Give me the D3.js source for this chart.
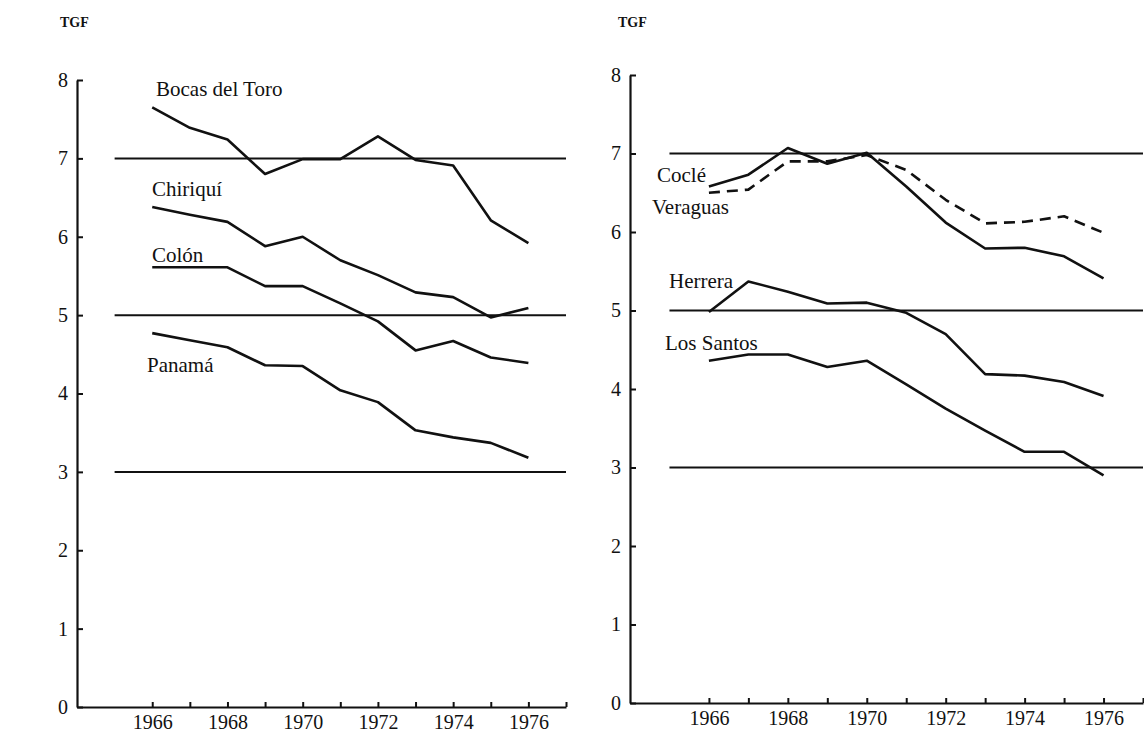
<!DOCTYPE html>
<html><head><meta charset="utf-8">
<script src="https://cdn.jsdelivr.net/npm/d3@7"></script>
<style>
body{margin:0;background:#fff}
svg{display:block}
text{font-family:"Liberation Serif","DejaVu Serif",serif;fill:#111}
</style>
</head><body>
<svg id="chart" width="1144" height="735"></svg>
<script>
// ---------- data ----------
const years = [1966, 1967, 1968, 1969, 1970, 1971, 1972, 1973, 1974, 1975, 1976];

const bocasDelToro = [7.65, 7.39, 7.24, 6.80, 6.99, 6.99, 7.28, 6.98, 6.91, 6.21, 5.92];
const chiriqui     = [6.38, 6.28, 6.19, 5.88, 6.00, 5.70, 5.51, 5.29, 5.23, 4.97, 5.09];
const colon        = [5.61, 5.61, 5.61, 5.37, 5.37, 5.15, 4.92, 4.55, 4.67, 4.46, 4.39];
const panama       = [4.77, 4.68, 4.59, 4.36, 4.35, 4.04, 3.89, 3.53, 3.44, 3.37, 3.18];

const cocle        = [6.58, 6.73, 7.07, 6.87, 7.01, 6.58, 6.12, 5.79, 5.80, 5.69, 5.41];
const veraguas     = [6.50, 6.54, 6.90, 6.90, 6.98, 6.79, 6.41, 6.11, 6.13, 6.20, 5.99];
const herrera      = [4.98, 5.37, 5.24, 5.09, 5.10, 4.97, 4.70, 4.19, 4.17, 4.09, 3.91];
const losSantos    = [4.36, 4.44, 4.44, 4.28, 4.36, 4.06, 3.75, 3.47, 3.20, 3.20, 2.90];

const leftNames  = ["Bocas del Toro", "Chiriquí", "Colón", "Panamá"];
const rightNames = ["Coclé", "Veraguas", "Herrera", "Los Santos"];

const referenceLevels = [7, 5, 3];
const refStartYear = 1965, refEndYear = 1977;
const yTickValues = [0, 1, 2, 3, 4, 5, 6, 7, 8];
const xTickMarks = [1966, 1967, 1968, 1969, 1970, 1971, 1972, 1973, 1974, 1975, 1976, 1977];
const xTickLabels = [1966, 1968, 1970, 1972, 1974, 1976];
const yAxisTitle = "TGF";

// ---------- layout ----------
const svg = d3.select("#chart");
const ink = "#111";

const panels = [
  { x0: 77, x1: 566, yTop: 80, yBottom: 707, titleX: 60,
    series: [bocasDelToro, chiriqui, colon, panama], names: leftNames,
    dashed: [false, false, false, false],
    labelPos: [[156, 96], [152, 196], [152, 262], [147, 372]] },
  { x0: 630, x1: 1143, yTop: 75, yBottom: 703, titleX: 618,
    series: [cocle, veraguas, herrera, losSantos], names: rightNames,
    dashed: [false, true, false, false],
    labelPos: [[657, 182], [652, 214], [669, 288], [665, 350]] }
];

panels.forEach(p => {
  const x = d3.scaleLinear().domain([1964, 1977]).range([p.x0, p.x1]);
  const y = d3.scaleLinear().domain([0, 8]).range([p.yBottom, p.yTop]);
  const g = svg.append("g");

  // reference lines
  g.selectAll("line.ref").data(referenceLevels).join("line")
    .attr("class", "ref")
    .attr("x1", x(refStartYear)).attr("x2", x(refEndYear))
    .attr("y1", d => y(d)).attr("y2", d => y(d))
    .attr("stroke", ink).attr("stroke-width", 2);

  // y axis
  const yAxis = d3.axisLeft(y).tickValues(yTickValues)
    .tickSizeInner(-6).tickSizeOuter(0).tickPadding(9)
    .tickFormat(d3.format("d"));
  const ya = g.append("g").attr("transform", `translate(${p.x0},0)`).call(yAxis);
  ya.select(".domain").attr("stroke", ink).attr("stroke-width", 2.2);
  ya.selectAll(".tick line").attr("stroke", ink).attr("stroke-width", 2);
  ya.selectAll(".tick text").attr("font-size", 20).attr("fill", ink)
    .style("font-family", '"Liberation Serif",serif');

  // x axis
  const xAxis = d3.axisBottom(x).tickValues(xTickMarks)
    .tickSizeInner(-5).tickSizeOuter(0).tickPadding(8)
    .tickFormat(d => xTickLabels.includes(d) ? String(d) : "");
  const xa = g.append("g").attr("transform", `translate(0,${p.yBottom})`).call(xAxis);
  xa.select(".domain").attr("stroke", ink).attr("stroke-width", 2.2);
  xa.selectAll(".tick line").attr("stroke", ink).attr("stroke-width", 2);
  xa.selectAll(".tick text").attr("font-size", 20).attr("fill", ink)
    .style("font-family", '"Liberation Serif",serif');

  // axis title
  g.append("text").attr("x", p.titleX).attr("y", 27)
    .attr("font-size", 14).attr("font-weight", "bold").text(yAxisTitle);

  // series lines
  const line = d3.line().x((d, i) => x(years[i])).y(d => y(d));
  p.series.forEach((s, i) => {
    g.append("path").datum(s)
      .attr("d", line)
      .attr("fill", "none")
      .attr("stroke", ink)
      .attr("stroke-width", 2.6)
      .attr("stroke-linejoin", "round")
      .attr("stroke-dasharray", p.dashed[i] ? "11,7" : null);
    g.append("text")
      .attr("x", p.labelPos[i][0]).attr("y", p.labelPos[i][1])
      .attr("font-size", 21).text(p.names[i]);
  });
});
</script>
</body></html>
